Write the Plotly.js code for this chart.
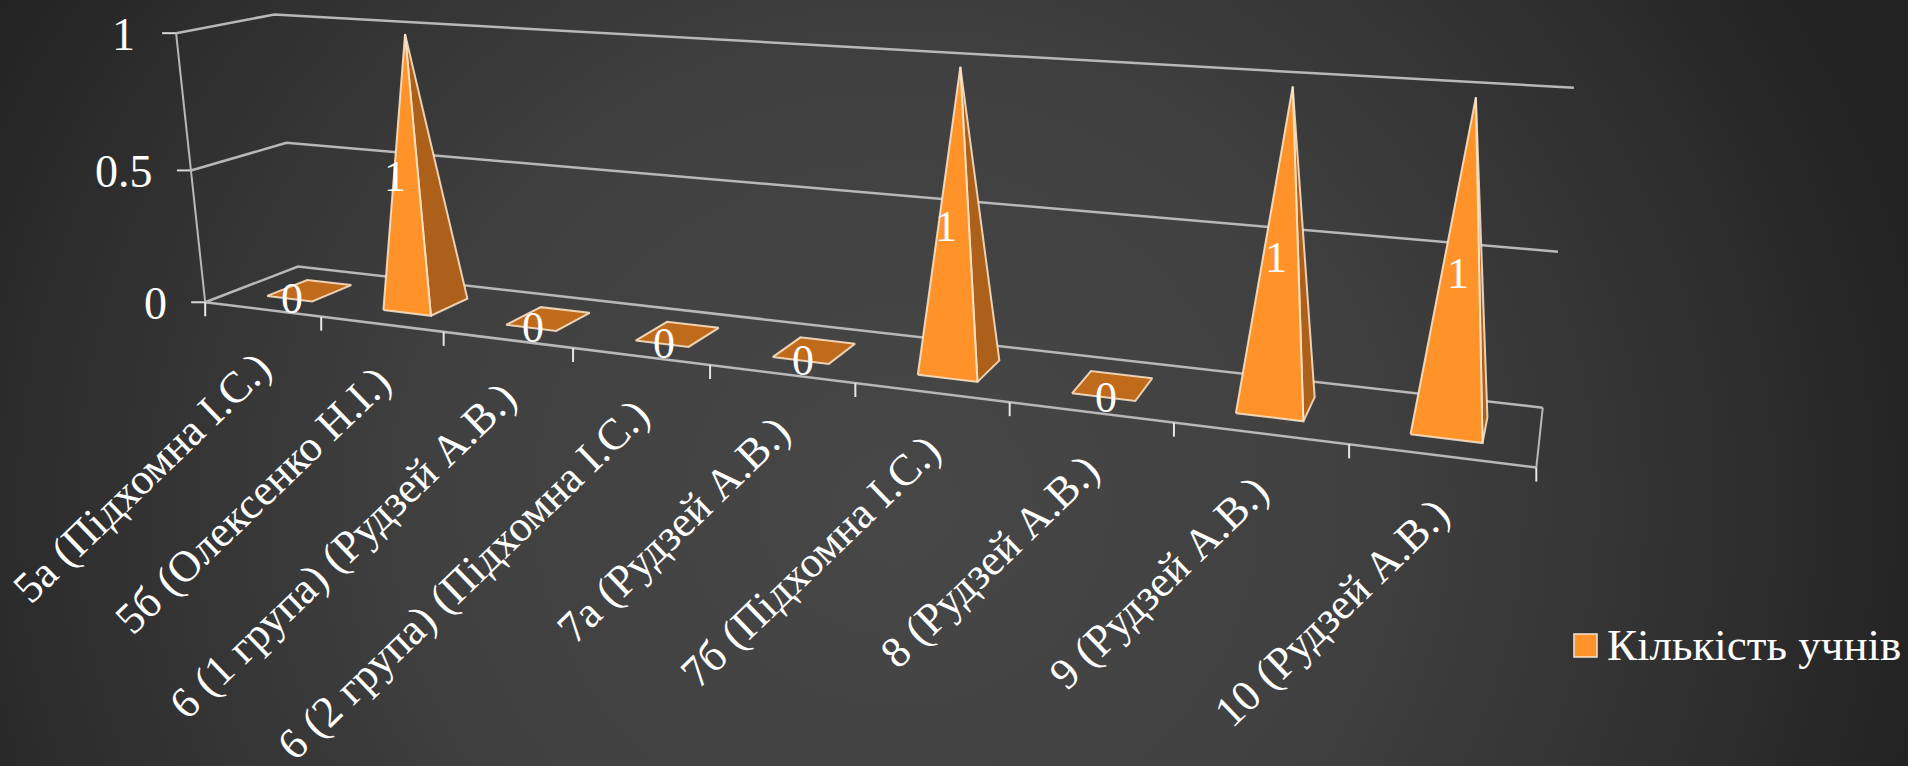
<!DOCTYPE html>
<html><head><meta charset="utf-8">
<script src="https://cdn.plot.ly/plotly-3.0.1.min.js"></script>
<style>html,body{margin:0;padding:0;width:1908px;height:766px;overflow:hidden;
background:radial-gradient(ellipse 1040px 980px at 47% 66%, #474747 0%, #404040 45%, #303030 78%, #232323 100%);}
#c{width:1908px;height:766px}</style></head><body><div id="c"></div>
<script>
const categories=["5а (Підхомна І.С.)","5б (Олексенко Н.І.)","6 (1 група) (Рудзей А.В.)","6 (2 група) (Підхомна І.С.)","7а (Рудзей А.В.)","7б (Підхомна І.С.)","8 (Рудзей А.В.)","9 (Рудзей А.В.)","10 (Рудзей А.В.)"];
const values=[0,1,0,0,0,1,0,1,1];
const yTicks=[0,0.5,1];
const seriesName="Кількість учнів";
const ORANGE="#FF9329",DARK="#AD6019",FLAT="#C06A1C",EDGE="rgba(255,232,205,0.85)",GRID="#B8B8B8",FONT="'Liberation Serif',serif";

// Camera calibration: category position, depth, value seen at picture position
const calib=[[0,0,0,206,302],[9,0,0,1537,467],[0,1,0,298,267],[9,1,0,1543,407],
[0,0,1,176,33],[0,1,1,275,14],[9,1,1,1575,88],[0,0,.5,191,171],[0,1,.5,286,143],[9,1,.5,1557,252],
[1,0,0,321,317],[2,0,0,443,332],[3,0,0,573,348],[5,0,0,855,383],[6,0,0,1010,402],[7,0,0,1174,423],[8,0,0,1349,444],
[1.5,.5,1,405,33],[5.5,.5,1,960,67],[7.5,.5,1,1293,87],[8.5,.5,1,1475,98]];
function solveCamera(){
  const n=11,A=Array.from({length:n},()=>Array(n+1).fill(0));
  const add=(r,b)=>{for(let i=0;i<n;i++){for(let j=0;j<n;j++)A[i][j]+=r[i]*r[j];A[i][n]+=r[i]*b;}};
  calib.forEach(([u,v,w,x,y])=>{const X=u/9,px=x/1000,py=y/1000;
    add([X,v,w,1,0,0,0,0,-px*X,-px*v,-px*w],px);
    add([0,0,0,0,X,v,w,1,-py*X,-py*v,-py*w],py);});
  for(let c=0;c<n;c++){let m=c;for(let r=c+1;r<n;r++)if(Math.abs(A[r][c])>Math.abs(A[m][c]))m=r;
    [A[c],A[m]]=[A[m],A[c]];
    for(let r=0;r<n;r++){if(r===c)continue;const f=A[r][c]/A[c][c];for(let j=c;j<=n;j++)A[r][j]-=f*A[c][j];}}
  return A.map((r,i)=>r[n]/r[i]);
}
const P=solveCamera();
function proj(u,v,w){const X=u/9,d=P[8]*X+P[9]*v+P[10]*w+1;
  return [1000*(P[0]*X+P[1]*v+P[2]*w+P[3])/d,1000*(P[4]*X+P[5]*v+P[6]*w+P[7])/d];}

const traces=[];
function line(pts,color,width){traces.push({type:"scatter",mode:"lines",x:pts.map(p=>p[0]),y:pts.map(p=>p[1]),
  line:{color:color,width:width},hoverinfo:"skip",showlegend:false});}
function poly(pts,fill){const c=pts.concat([pts[0]]);traces.push({type:"scatter",mode:"lines",x:c.map(p=>p[0]),y:c.map(p=>p[1]),
  fill:"toself",fillcolor:fill,line:{color:EDGE,width:2},hoverinfo:"skip",showlegend:false});}

const n=categories.length,annotations=[],T=14;
// walls and gridlines
yTicks.forEach(t=>{
  line([proj(0,0,t),proj(0,1,t),proj(n,1,t)],GRID,2.5);
  const a=proj(0,0,t);
  line([[a[0]-T,a[1]],a],"#D8D8D8",2);
  annotations.push({x:a[0]-T-(t===1?25:22),y:a[1]+1,text:String(t),showarrow:false,xanchor:"right",yanchor:"middle",font:{family:FONT,size:46,color:"#fff"}});
});
line([proj(0,0,0),proj(0,0,1)],GRID,2);
line([proj(0,0,0),proj(n,0,0)],GRID,2.5);
line([proj(n,0,0),proj(n,1,0)],GRID,2);
for(let i=0;i<=n;i++){const a=proj(i,0,0);line([a,[a[0],a[1]+14]],"#E6E6E6",2);}
// pyramids
const du=0.197,v0=0.28,v1=0.72;
values.forEach((val,i)=>{
  const c=i+0.505,FL=proj(c-du,v0,0),FR=proj(c+du,v0,0),BR=proj(c+du,v1,0),BL=proj(c-du,v1,0);
  if(val>0){const top=proj(i+0.5,0.5,val);poly([FR,BR,top],DARK);poly([FL,FR,top],ORANGE);}
  else poly([FL,FR,BR,BL],FLAT);
});
values.forEach((val,i)=>{
  const p=proj(i+0.5,0.28,val/2);
  annotations.push({x:p[0]+(val?-1:3),y:p[1]-(val?2:0),text:String(val),showarrow:false,xanchor:"center",yanchor:"middle",font:{family:FONT,size:44,color:"#fff"}});
});
categories.forEach((c,i)=>{
  const p=proj(i+0.5,0,0);
  annotations.push({x:p[0]+21,y:p[1]+30,text:c,showarrow:false,textangle:-44,xanchor:"right",yanchor:"top",font:{family:FONT,size:44,color:"#fff"}});
});
annotations.push({x:1605,y:645,text:seriesName,showarrow:false,xanchor:"left",yanchor:"middle",font:{family:FONT,size:45,color:"#fff"}});
const layout={width:1908,height:766,margin:{l:0,r:0,t:0,b:0},paper_bgcolor:"rgba(0,0,0,0)",plot_bgcolor:"rgba(0,0,0,0)",showlegend:false,
  xaxis:{range:[0,1908],visible:false,fixedrange:true},yaxis:{range:[766,0],visible:false,fixedrange:true},
  annotations:annotations,
  shapes:[{type:"rect",xref:"x",yref:"y",x0:1574,x1:1597,y0:634,y1:657,fillcolor:ORANGE,line:{color:"#F4E6D6",width:1.5}}]};
Plotly.newPlot("c",traces,layout,{staticPlot:true,displayModeBar:false});
</script></body></html>
